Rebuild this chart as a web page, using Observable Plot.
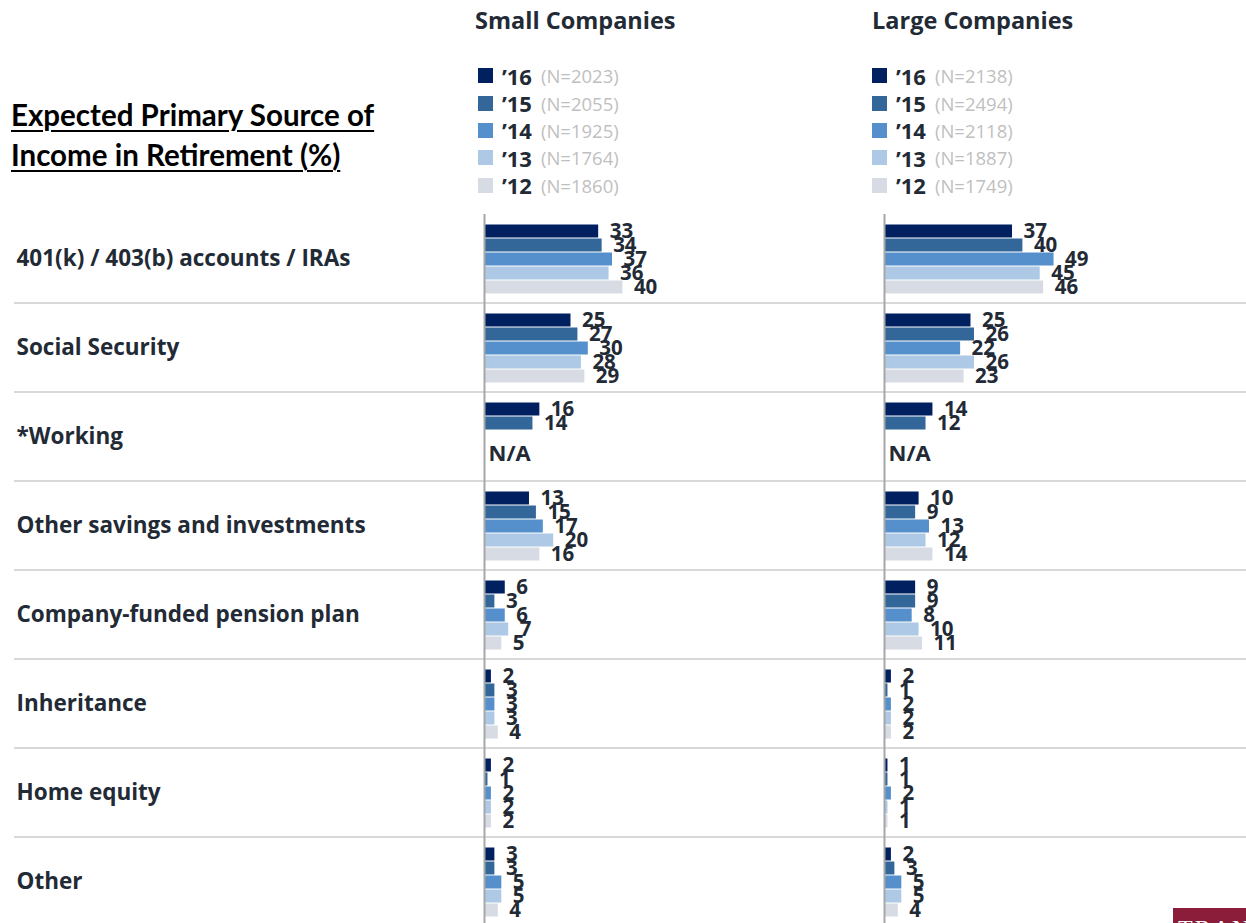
<!DOCTYPE html>
<html>
<head>
<meta charset="utf-8">
<script src="https://cdn.jsdelivr.net/npm/d3@7"></script>
<script src="https://cdn.jsdelivr.net/npm/@observablehq/plot@0.6"></script>
<style>
  html, body { margin: 0; padding: 0; background: #fff; }
  #wrap { position: relative; width: 1246px; height: 923px; overflow: hidden; font-family: "Open Sans", sans-serif; }
  #chart { position: absolute; left: 0; top: 0; }
  .title { position: absolute; left: 11px; top: 95px; font-family: Lato, sans-serif; font-weight: 700; font-size: 29.5px; line-height: 40px; color: #000; text-decoration: underline; text-decoration-thickness: 2px; text-underline-offset: 4px; }
  .panel-title { position: absolute; top: 4px; font-family: "Open Sans", sans-serif; font-weight: 700; font-size: 23.5px; color: #222a35; white-space: nowrap; }
  .legend { position: absolute; top: 62px; }
  .legend-row { height: 27.4px; display: flex; align-items: center; white-space: nowrap; }
  .sw { width: 15px; height: 15px; margin-right: 9px; flex: none; }
  .yr { font-weight: 700; font-size: 22px; color: #222a35; margin-right: 9px; }
  .nn { font-size: 18.5px; color: #bfbfbf; }
  .logo { position: absolute; left: 1173px; top: 908px; width: 120px; height: 24px; background: #8c1d3a; color: #fff; font-family: "Liberation Serif", "DejaVu Serif", serif; font-size: 24px; letter-spacing: 2px; padding: 8px 0 0 5px; box-sizing: border-box; white-space: nowrap; line-height: 24px; }
</style>
</head>
<body>
<div id="wrap">
  <div id="chart"></div>
  <div class="title">Expected Primary Source of<br>Income in Retirement (%)</div>
  <div class="logo">TRANSAMERICA</div>
</div>
<script>
// ---- data ----
const categories = [
  "401(k) / 403(b) accounts / IRAs",
  "Social Security",
  "*Working",
  "Other savings and investments",
  "Company-funded pension plan",
  "Inheritance",
  "Home equity",
  "Other"
];
const years = ["’16", "’15", "’14", "’13", "’12"];
const panels = ["Small Companies", "Large Companies"];
const yearColors = ["#002060", "#336699", "#5590cc", "#adc9e6", "#d7dce4"];
const smallN = [2023, 2055, 1925, 1764, 1860];
const largeN = [2138, 2494, 2118, 1887, 1749];

const small16 = [33, 25, 16, 13, 6, 2, 2, 3];
const small15 = [34, 27, 14, 15, 3, 3, 1, 3];
const small14 = [37, 30, null, 17, 6, 3, 2, 5];
const small13 = [36, 28, null, 20, 7, 3, 2, 5];
const small12 = [40, 29, null, 16, 5, 4, 2, 4];

const large16 = [37, 25, 14, 10, 9, 2, 1, 2];
const large15 = [40, 26, 12, 9, 9, 1, 1, 3];
const large14 = [49, 22, null, 13, 8, 2, 2, 5];
const large13 = [45, 26, null, 12, 10, 2, 1, 5];
const large12 = [46, 23, null, 14, 11, 2, 1, 4];

const notAvailable = [
  {panel: "Small Companies", category: "*Working", year: "’13"},
  {panel: "Large Companies", category: "*Working", year: "’13"}
];

// ---- table built from arrays ----
const seriesByPanel = {
  "Small Companies": [small16, small15, small14, small13, small12],
  "Large Companies": [large16, large15, large14, large13, large12]
};
const rows = [];
for (const panel of panels) {
  seriesByPanel[panel].forEach((vals, yi) => {
    vals.forEach((v, ci) => {
      if (v != null) rows.push({panel, year: years[yi], category: categories[ci], value: v});
    });
  });
}

const textColor = "#222a35";

const chart = Plot.plot({
  width: 1246,
  height: 927,
  marginTop: 212,
  marginBottom: 0,
  marginLeft: 484,
  marginRight: 16,
  style: {fontFamily: "'Open Sans', sans-serif", background: "transparent", color: textColor},
  fx: {domain: panels, paddingInner: 0.135, paddingOuter: 0, axis: null, label: null},
  fy: {domain: categories, padding: 0, label: null},
  x: {domain: [0, 100], axis: null},
  y: {domain: years, paddingInner: 0, paddingOuter: 0.48, axis: null},
  color: {domain: years, range: yearColors},
  marks: [
    Plot.axisFy({anchor: "left", label: null, tickSize: 0, tickPadding: 0, textAnchor: "start", dx: -468,
      fontSize: 22.5, fontWeight: 700, fill: textColor}),
    Plot.barX(rows, {fx: "panel", fy: "category", y: "year", x: "value", fill: "year", insetTop: 0.5, insetBottom: 0.5}),
    Plot.ruleX([0], {stroke: "#a6a6a6", strokeWidth: 2}),
    Plot.text(rows, {fx: "panel", fy: "category", y: "year", x: "value", text: d => String(d.value),
      dx: 11, textAnchor: "start", fontSize: 20.5, fontWeight: 700, fill: textColor}),
    Plot.text(notAvailable, {fx: "panel", fy: "category", y: "year", frameAnchor: "left", text: () => "N/A",
      dx: 4, dy: 2, textAnchor: "start", fontSize: 22, fontWeight: 700, fill: textColor})
  ]
});

document.getElementById("chart").appendChild(chart);

// separators between category rows, positioned from the fy scale
const fyScale = chart.scale("fy");
const svg = d3.select(chart.tagName.toLowerCase() === "svg" ? chart : chart.querySelector("svg"));
const sepG = svg.insert("g", ":scope > g");
categories.slice(0, -1).forEach(cat => {
  const yPos = fyScale.apply(cat) + fyScale.bandwidth;
  sepG.append("line")
    .attr("x1", 14).attr("x2", 1246)
    .attr("y1", yPos).attr("y2", yPos)
    .attr("stroke", "#d9d9d9").attr("stroke-width", 2);
});

// header: panel titles and legends aligned with the fx scale
const fxScale = chart.scale("fx");
const wrap = document.getElementById("wrap");
panels.forEach((panel, pi) => {
  const x0 = fxScale.apply(panel);
  const t = document.createElement("div");
  t.className = "panel-title";
  t.textContent = panel;
  t.style.left = (x0 - (pi === 0 ? 9 : 12)) + "px";
  wrap.appendChild(t);

  const lg = document.createElement("div");
  lg.className = "legend";
  lg.style.left = (x0 - (pi === 0 ? 6 : 12)) + "px";
  const ns = pi === 0 ? smallN : largeN;
  years.forEach((yr, i) => {
    const r = document.createElement("div");
    r.className = "legend-row";
    r.innerHTML = `<span class="sw" style="background:${yearColors[i]}"></span><span class="yr">${yr}</span><span class="nn">(N=${ns[i]})</span>`;
    lg.appendChild(r);
  });
  wrap.appendChild(lg);
});
</script>
</body>
</html>
